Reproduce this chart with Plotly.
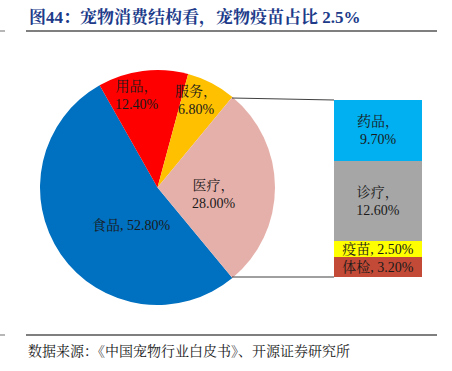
import plotly.graph_objects as go

# ---- data ----
pie_labels = ["食品", "用品", "服务", "医疗"]
pie_values = [52.8, 12.4, 6.8, 28.0]
pie_text = ["食品, 52.80%", "用品，<br>12.40%", "服务，<br>6.80%", "医疗，<br>28.00%"]
pie_colors = ["#0070C0", "#FF0000", "#FFC000", "#E6B0AA"]

bar_labels = ["体检", "疫苗", "诊疗", "药品"]          # bottom -> top
bar_values = [3.2, 2.5, 12.6, 9.7]
bar_text = ["体检, 3.20%", "疫苗, 2.50%", "诊疗，<br>12.60%", "药品，<br>9.70%"]
bar_colors = ["#C34A36", "#FFFF00", "#A6A6A6", "#00B0F0"]

title = "图44：宠物消费结构看，宠物疫苗占比 2.5%"
source = "数据来源：《中国宠物行业白皮书》、开源证券研究所"

W, H = 452, 371
FONT = "Times New Roman, Liberation Serif, Noto Serif CJK SC, Noto Sans CJK SC, serif"

# label placement (pixel centres) for the pie slice labels, same order as pie_labels
pie_label_pos = [(131, 225), (137, 95), (196, 101), (214, 194)]

medical_share = pie_values[3] / sum(pie_values) * 360.0
rotation = 90 + medical_share / 2  # centre the 医疗 slice at 3 o'clock

fig = go.Figure()
fig.add_trace(go.Pie(
    labels=pie_labels, values=pie_values,
    textinfo="none",
    sort=False, direction="clockwise", rotation=rotation,
    marker=dict(colors=pie_colors, line=dict(width=0)),
    domain=dict(x=[40 / W, 275 / W], y=[1 - 305 / H, 1 - 70 / H]),
    showlegend=False, hoverinfo="label+value",
))

for txt, (px, py) in zip(pie_text, pie_label_pos):
    fig.add_annotation(text=txt, xref="paper", yref="paper",
                       x=px / W, y=1 - py / H, xanchor="center", yanchor="middle",
                       showarrow=False, align="center",
                       font=dict(family=FONT, size=14, color="#1a1a1a"))

for lab, val, txt, col in zip(bar_labels, bar_values, bar_text, bar_colors):
    fig.add_trace(go.Bar(
        x=[0], y=[val], name=lab, text=[txt], texttemplate="%{text}",
        textposition="inside", insidetextanchor="middle",
        textangle=0, constraintext="none",
        marker=dict(color=col, line=dict(width=0)),
        textfont=dict(family=FONT, size=14, color="#1a1a1a"),
        width=1, showlegend=False, cliponaxis=False,
    ))

total_bar = sum(bar_values)

# connector lines (pie slice edges -> bar corners)
fig.add_shape(type="line", xref="paper", yref="paper",
              x0=232 / W, y0=1 - 98 / H, x1=334 / W, y1=1 - 100 / H,
              line=dict(color="#404040", width=1))
fig.add_shape(type="line", xref="paper", yref="paper",
              x0=232 / W, y0=1 - 277 / H, x1=334 / W, y1=1 - 277 / H,
              line=dict(color="#404040", width=1))

# header / footer rules
for yy in (31, 335):
    fig.add_shape(type="line", xref="paper", yref="paper",
                  x0=26 / W, x1=437 / W, y0=1 - yy / H, y1=1 - yy / H,
                  line=dict(color="#7F7F7F", width=2))
    fig.add_shape(type="line", xref="paper", yref="paper",
                  x0=0, x1=5 / W, y0=1 - yy / H, y1=1 - yy / H,
                  line=dict(color="#9F9F9F", width=1.5))

fig.add_annotation(text="<b>" + title + "</b>", xref="paper", yref="paper",
                   x=27 / W, y=1 - 18 / H, xanchor="left", yanchor="middle",
                   showarrow=False,
                   font=dict(family=FONT, size=17, color="#203A8A"))
fig.add_annotation(text=source, xref="paper", yref="paper",
                   x=26 / W, y=1 - 351 / H, xanchor="left", yanchor="middle",
                   showarrow=False,
                   font=dict(family=FONT, size=14, color="#1a1a1a"))

fig.update_layout(
    width=W, height=H, margin=dict(l=0, r=0, t=0, b=0),
    paper_bgcolor="white", plot_bgcolor="white",
    barmode="stack", bargap=0,
    uniformtext=dict(minsize=14, mode="show"),
    xaxis=dict(domain=[334 / W, 422 / W], range=[-0.5, 0.5], visible=False, fixedrange=True),
    yaxis=dict(domain=[1 - 277 / H, 1 - 100 / H], range=[0, total_bar], visible=False, fixedrange=True),
)

fig.write_html("out.html", config={"displayModeBar": False},
               post_script="document.body.style.margin='0';document.body.style.overflow='hidden';")
